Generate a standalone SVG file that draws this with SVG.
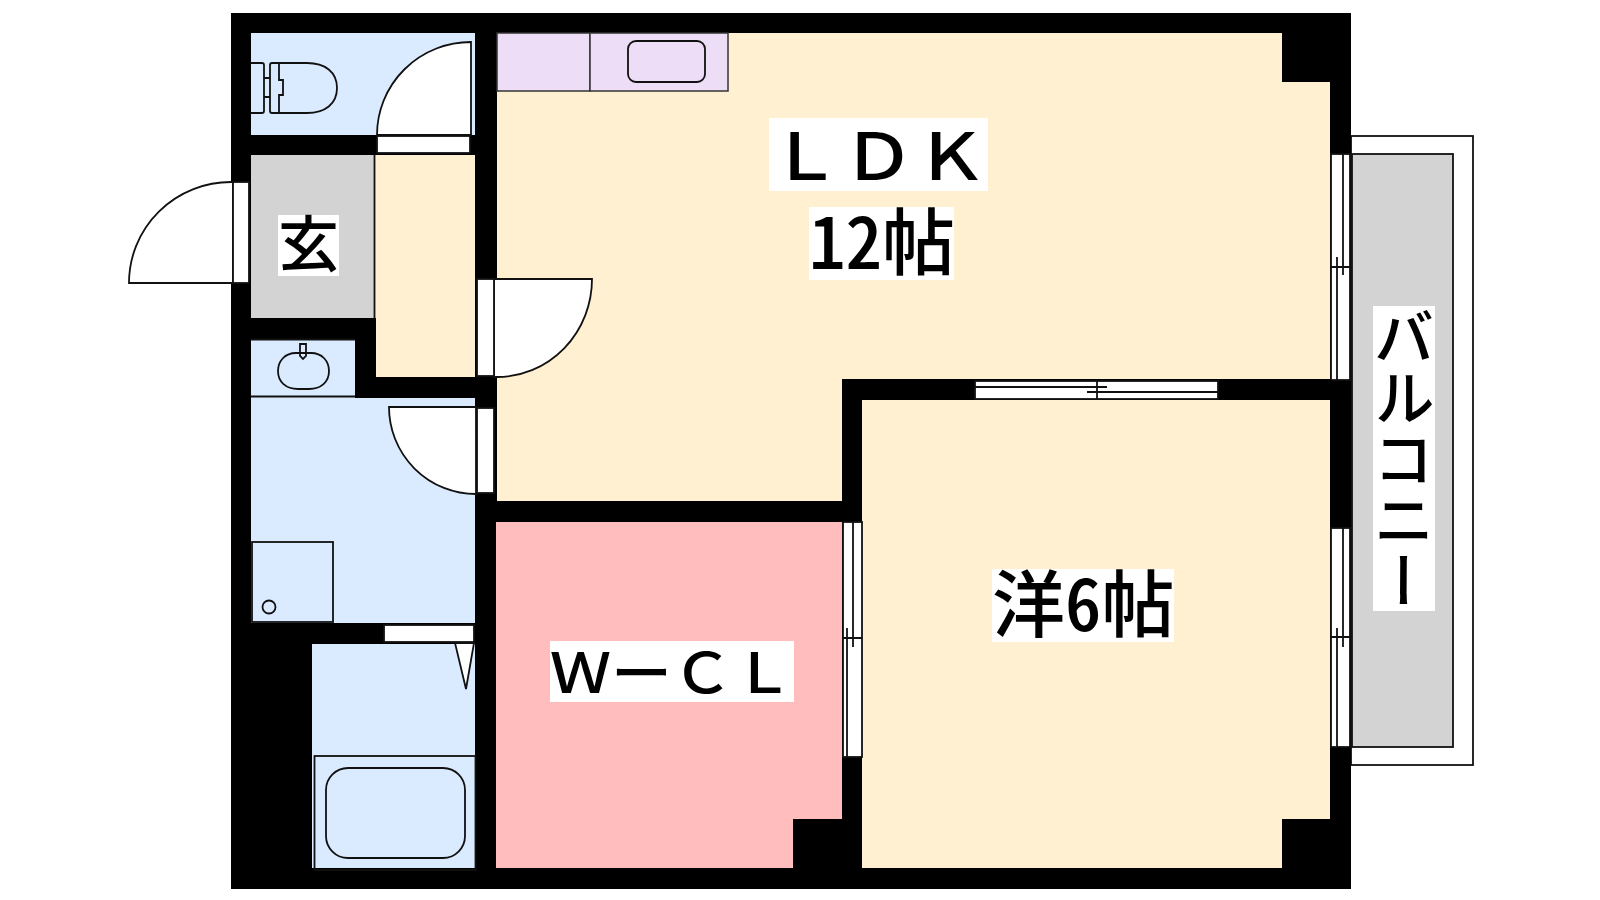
<svg xmlns="http://www.w3.org/2000/svg" width="1600" height="900" viewBox="0 0 1600 900">
<style>
.ln{stroke:#111;stroke-width:1.8;fill:none}
.wh{stroke:#111;stroke-width:1.8;fill:#fff}
.eq{stroke:#111;stroke-width:1.8;fill:none}
.cream{fill:#fef0d0}.blue{fill:#dbebff}.gray{fill:#d3d3d3}.pink{fill:#ffbdbd}.lilac{fill:#eeddf6;stroke:#333;stroke-width:1.5}
.lb{fill:#fff}
text{font-family:"Noto Sans CJK JP","Noto Sans",sans-serif;fill:#000;font-weight:500}
.big{font-size:73px}.mid{font-size:61px}
</style>
<rect width="1600" height="900" fill="#fff"/>
<g id="balcony">
<rect x="1351" y="136" width="122" height="629" class="wh"/>
<rect x="1352" y="154" width="101" height="593" fill="#d3d3d3" stroke="#111" stroke-width="1.8"/>
</g>
<rect id="walls" x="231" y="13" width="1120" height="876" fill="#000"/>
<g id="ldk">
<polygon class="cream" points="497,33 1282,33 1282,82 1330,82 1330,379 842,379 842,501 497,501"/>
<rect class="lilac" x="497" y="33" width="93" height="58"/>
<rect class="lilac" x="590" y="33" width="138" height="58"/>
<rect class="eq" x="628" y="41" width="77" height="41" rx="8"/>
</g>
<polygon id="western" class="cream" points="862,400 1330,400 1330,819 1282,819 1282,868 862,868"/>
<polygon id="wcl" class="pink" points="496,522 842,522 842,819 793,819 793,868 496,868"/>
<polygon id="hall" class="cream" points="375,155 475,155 475,377 376,377 376,318 375,318"/>
<rect id="entry" class="gray" x="251" y="155" width="123" height="163"/>
<line class="ln" x1="374.5" y1="155" x2="374.5" y2="318"/>
<g id="toilet">
<rect class="blue" x="251" y="33" width="224" height="102"/>
<path class="eq" d="M251,63H262q2,0 2,2V111q0,2-2,2H251M264,78H270M264,97H270"/>
<path class="eq" d="M270,65q0-2 2-2H307C325,63 337,72 337,88C337,104 325,113 307,113H272q-2,0-2-2ZM279,63V80H283V95H279V113"/>
<path class="wh" d="M377,135A94,93 0 0 1 471,42V135Z"/>
<rect class="wh" x="377" y="136" width="93" height="17"/>
</g>
<g id="washroom">
<polygon class="blue" points="251,339 355,339 355,398 475,398 475,623 251,623"/>
<line class="ln" x1="251" y1="339.5" x2="355" y2="339.5"/>
<line class="ln" x1="251" y1="396.5" x2="355" y2="396.5"/>
<path class="eq" d="M296,353H311C322,353 329,361 329,371C329,382 321,389 309,389H298C286,389 278,382 278,371C278,361 285,353 296,353Z"/>
<path class="eq" fill="#dbebff" d="M300,344H306V356L303,359L300,356Z"/>
<rect class="ln" x="252" y="542" width="81" height="80"/>
<circle class="eq" cx="269" cy="607" r="6.5"/>
</g>
<g id="bath">
<rect class="blue" x="312" y="644" width="163" height="224"/>
<rect class="ln" x="314.500" y="756" width="161" height="114"/>
<rect class="eq" x="326" y="768" width="139" height="90" rx="22"/>
<polygon class="wh" points="455,643 474,643 466,689"/>
<rect class="wh" x="384" y="625" width="90" height="17"/>
</g>
<g id="doors">
<path class="wh" d="M231,182A102,101 0 0 0 129,283H233V182Z"/>
<rect class="wh" x="233" y="182" width="16" height="101"/>
<path class="wh" d="M494,279H592A95,98 0 0 1 497,377H494Z"/>
<rect class="wh" x="477" y="279" width="17" height="97"/>
<path class="wh" d="M389,407H476V494A87,87 0 0 1 389,407Z"/>
<rect class="wh" x="477" y="408" width="17" height="85"/>
</g>
<g id="windows">
<rect class="wh" x="1331" y="154" width="19" height="226"/>
<path class="ln" d="M1331,267H1350M1343,154V275M1337,257V380"/>
<rect class="wh" x="1331" y="528" width="19" height="219"/>
<path class="ln" d="M1331,637H1350M1343,528V647M1337,628V747"/>
<rect class="wh" x="843" y="522" width="19" height="235"/>
<path class="ln" d="M843,638H862M853,522V647M847,628V757"/>
<rect class="wh" x="975" y="381" width="243" height="18"/>
<path class="ln" d="M1097,381V399M975,387H1107M1087,392H1218"/>
</g>
<g id="labels">
<rect class="lb" x="769" y="118" width="219" height="73"/>
<text class="big" transform="translate(769,180) scale(1,.9)">ＬＤＫ</text>
<rect class="lb" x="809" y="207" width="145" height="73"/>
<text class="big" x="809" y="269" style="font-feature-settings:'hwid'">12帖</text>
<rect class="lb" x="992" y="569" width="182" height="73"/>
<text class="big" x="992" y="631" style="font-feature-settings:'hwid'">洋6帖</text>
<rect class="lb" x="550" y="641" width="244" height="61"/>
<text class="mid" transform="translate(550,693) scale(1,.9)">ＷーＣＬ</text>
<rect class="lb" x="278" y="215" width="61" height="61"/>
<text class="mid" x="278" y="267">玄</text>
<rect class="lb" x="1373" y="306" width="62" height="305"/>
<text class="mid" x="1404" y="306" style="writing-mode:vertical-rl">バルコニー</text>
</g>
</svg>
